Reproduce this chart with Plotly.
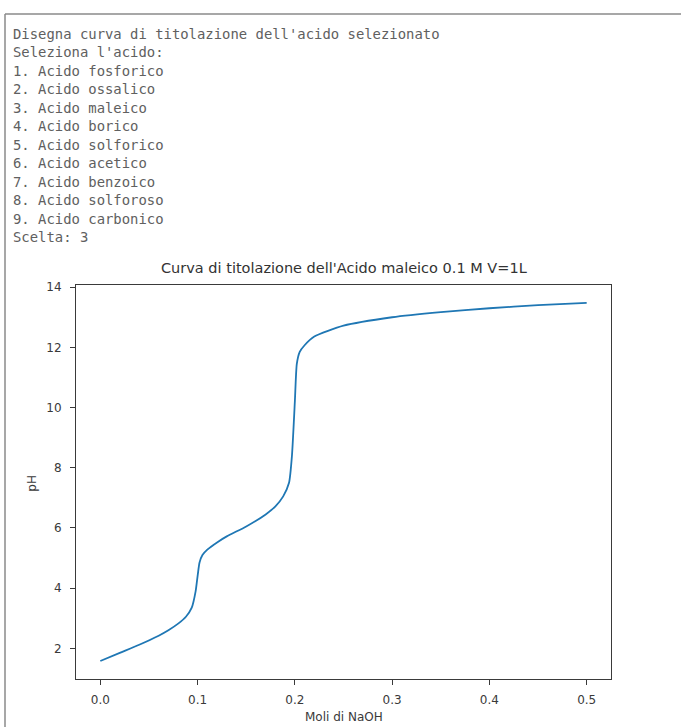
import plotly.graph_objects as go

# Console text lines above the chart
console_lines = [
    "Disegna curva di titolazione dell'acido selezionato",
    "Seleziona l'acido:",
    "1. Acido fosforico",
    "2. Acido ossalico",
    "3. Acido maleico",
    "4. Acido borico",
    "5. Acido solforico",
    "6. Acido acetico",
    "7. Acido benzoico",
    "8. Acido solforoso",
    "9. Acido carbonico",
    "Scelta: 3",
]

# Titration curve
moli_naoh = [0.0, 0.02, 0.04, 0.06, 0.07, 0.08, 0.088, 0.094, 0.098, 0.1, 0.102, 0.105,
             0.11, 0.12, 0.13, 0.15, 0.17, 0.18, 0.188, 0.194, 0.197, 0.2, 0.202,
             0.205, 0.21, 0.22, 0.25, 0.3, 0.35, 0.4, 0.45, 0.5]
ph = [1.58, 1.85, 2.12, 2.42, 2.6, 2.82, 3.05, 3.35, 3.9, 4.4, 4.85, 5.1,
      5.28, 5.52, 5.72, 6.05, 6.45, 6.72, 7.05, 7.5, 8.4, 10.2, 11.45,
      11.85, 12.07, 12.36, 12.72, 13.0, 13.17, 13.3, 13.4, 13.48]

x_ticks = [0.0, 0.1, 0.2, 0.3, 0.4, 0.5]
x_tick_labels = ["0.0", "0.1", "0.2", "0.3", "0.4", "0.5"]
y_ticks = [2, 4, 6, 8, 10, 12, 14]

title_text = "Curva di titolazione dell'Acido maleico 0.1 M V=1L"
x_title = "Moli di NaOH"
y_title = "pH"

W, H = 681, 727
L, R, T, B = 76, 611, 282, 679


def px(xp):
    return xp / W


def py(yp):
    return (H - yp) / H


fig = go.Figure()
fig.add_trace(go.Scatter(
    x=moli_naoh, y=ph, mode="lines",
    line=dict(color="#1f77b4", width=1.8, shape="spline", smoothing=0.6),
    hoverinfo="skip", showlegend=False,
))

axis_common = dict(
    showgrid=False, zeroline=False, showline=True, mirror=True,
    linecolor="#3a3a3a", linewidth=1, ticks="outside", ticklen=5,
    tickcolor="#3a3a3a", tickfont=dict(family="DejaVu Sans", size=12, color="#3a3a3a"),
)

fig.update_layout(
    width=W, height=H,
    margin=dict(l=0, r=0, t=0, b=0),
    paper_bgcolor="white", plot_bgcolor="white",
    xaxis=dict(domain=[px(L), px(R)], range=[-0.025, 0.525],
               tickvals=x_ticks, ticktext=x_tick_labels, ticklabelstandoff=4,
               **axis_common),
    yaxis=dict(domain=[py(B), py(T)], range=[0.97, 14.07],
               tickvals=y_ticks, ticklabelstandoff=6, **axis_common),
)

annotations = []
for i, line in enumerate(console_lines):
    annotations.append(dict(
        x=px(11), y=py(29 + i * 18.6), xref="paper", yref="paper",
        xanchor="left", yanchor="middle", showarrow=False, text=line,
        font=dict(family="DejaVu Sans Mono", size=13.9, color="#606060"),
    ))
annotations.append(dict(
    x=px((L + R) / 2), y=py(265), xref="paper", yref="paper",
    xanchor="center", yanchor="middle", showarrow=False, text=title_text,
    font=dict(family="DejaVu Sans", size=14.5, color="#333333"),
))
annotations.append(dict(
    x=px((L + R) / 2), y=py(717), xref="paper", yref="paper",
    xanchor="center", yanchor="middle", showarrow=False, text=x_title,
    font=dict(family="DejaVu Sans", size=12, color="#3a3a3a"),
))
annotations.append(dict(
    x=px(32), y=py(482), xref="paper", yref="paper",
    xanchor="center", yanchor="middle", showarrow=False, text=y_title,
    textangle=-90, font=dict(family="DejaVu Sans", size=12, color="#3a3a3a"),
))
fig.update_layout(annotations=annotations)

# Frame lines of the screenshot (top and left edges)
fig.add_shape(type="line", xref="paper", yref="paper",
              x0=px(5), x1=1, y0=py(9), y1=py(9),
              line=dict(color="#8a8a8a", width=1.5))
fig.add_shape(type="line", xref="paper", yref="paper",
              x0=px(5), x1=px(5), y0=py(9), y1=0,
              line=dict(color="#8a8a8a", width=1.5))

fig.write_html(
    "out.html",
    config={"displayModeBar": False},
    post_script="document.body.style.margin='0';document.body.style.overflow='hidden';",
)
